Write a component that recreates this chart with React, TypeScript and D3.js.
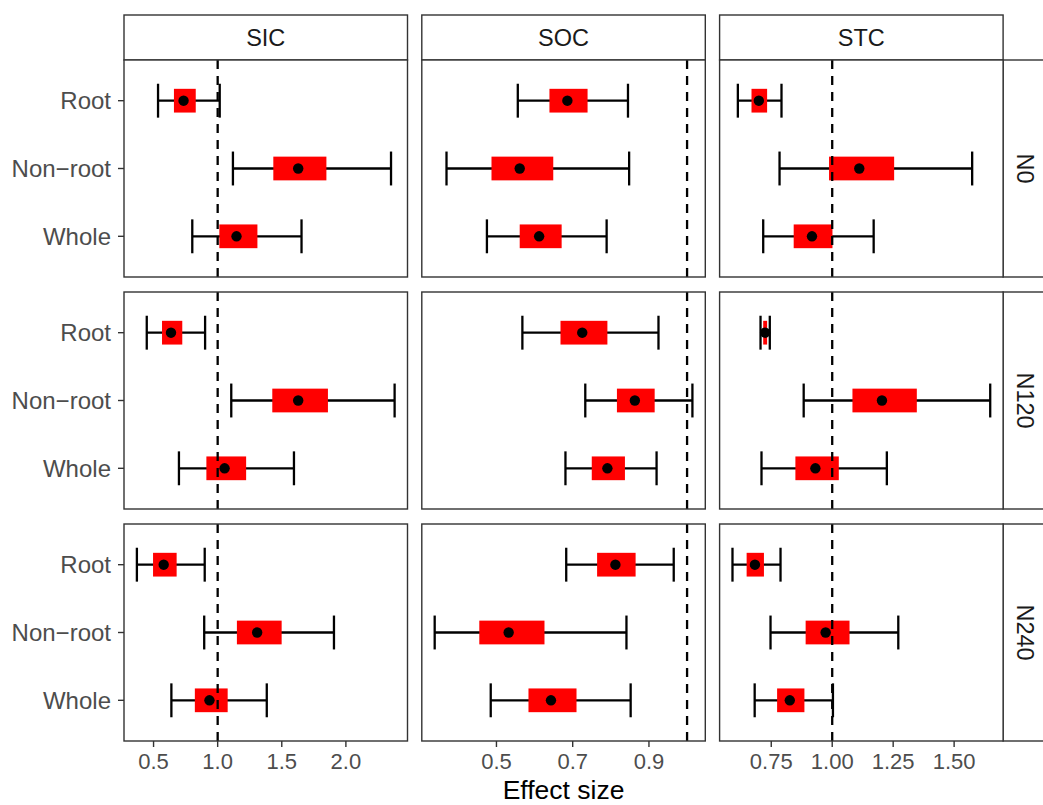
import React, { useEffect, useRef } from 'react';
import * as d3 from 'd3';

// facets
const pools = ['SIC', 'SOC', 'STC'];
const nLevels = ['N0', 'N120', 'N240'];
const parts = ['Root', 'Non\u2212root', 'Whole'];

// values: [nitrogen row][pool column][part]
const means = [
    [[0.734, 1.628, 1.147], [0.686, 0.561, 0.612], [0.699, 1.111, 0.917]],
    [[0.636, 1.628, 1.054], [0.725, 0.863, 0.791], [0.725, 1.204, 0.931]],
    [[0.579, 1.308, 0.936], [0.812, 0.532, 0.643], [0.683, 0.973, 0.826]]
];
const boxLow = [
    [[0.659, 1.434, 1.013], [0.639, 0.487, 0.561], [0.669, 0.987, 0.842]],
    [[0.566, 1.426, 0.912], [0.668, 0.816, 0.750], [0.717, 1.083, 0.849]],
    [[0.496, 1.150, 0.822], [0.764, 0.455, 0.584], [0.649, 0.891, 0.774]]
];
const boxHigh = [
    [[0.829, 1.848, 1.310], [0.739, 0.649, 0.671], [0.733, 1.254, 1.001]],
    [[0.724, 1.860, 1.222], [0.791, 0.915, 0.837], [0.733, 1.347, 1.027]],
    [[0.680, 1.499, 1.078], [0.865, 0.626, 0.710], [0.720, 1.071, 0.886]]
];
const ciLow = [
    [[0.535, 1.119, 0.802], [0.556, 0.369, 0.475], [0.613, 0.784, 0.717]],
    [[0.447, 1.106, 0.698], [0.568, 0.733, 0.681], [0.706, 0.883, 0.710]],
    [[0.370, 0.895, 0.639], [0.683, 0.338, 0.485], [0.591, 0.747, 0.682]]
];
const ciHigh = [
    [[1.016, 2.352, 1.654], [0.845, 0.848, 0.789], [0.792, 1.574, 1.170]],
    [[0.902, 2.380, 1.595], [0.925, 1.014, 0.920], [0.744, 1.648, 1.224]],
    [[0.899, 1.907, 1.383], [0.965, 0.841, 0.852], [0.788, 1.271, 1.003]]
];

// x ticks per pool
const ticksSIC = [0.5, 1.0, 1.5, 2.0];
const ticksSOC = [0.5, 0.7, 0.9];
const ticksSTC = [0.75, 1.0, 1.25, 1.5];
const tickSets = [ticksSIC, ticksSOC, ticksSTC];
const tickFormats = ['.1f', '.1f', '.2f'];

const refLine = 1;

const App = () => {
    const ref = useRef<SVGSVGElement | null>(null);

    useEffect(() => {
        const width = 1043;
        const height = 805;
        const left = 124, panelW = 283.5, gapX = 14.3;
        const top = 60, panelH = 217, gapY = 15;
        const stripH = 45;
        const border = '#333333';

        const svg = d3.select(ref.current);
        svg.selectAll('*').remove();
        svg.attr('width', width).attr('height', height)
            .style('font-family', 'Liberation Sans, Arial, sans-serif');

        const colX = (c: number) => left + c * (panelW + gapX);
        const rowY = (r: number) => top + r * (panelH + gapY);

        // free x scale per pool column
        const xScales = pools.map((_, c) => {
            const vals: number[] = [refLine];
            nLevels.forEach((_, r) => {
                vals.push(...ciLow[r][c], ...ciHigh[r][c]);
            });
            const [lo, hi] = d3.extent(vals) as [number, number];
            const pad = (hi - lo) * 0.05;
            return d3.scaleLinear().domain([lo - pad, hi + pad]).range([colX(c), colX(c) + panelW]);
        });

        // top strips
        pools.forEach((p, c) => {
            svg.append('rect')
                .attr('x', colX(c)).attr('y', top - stripH)
                .attr('width', panelW).attr('height', stripH)
                .attr('fill', 'white').attr('stroke', border).attr('stroke-width', 1.4);
            svg.append('text')
                .attr('x', colX(c) + panelW / 2).attr('y', top - stripH / 2)
                .attr('text-anchor', 'middle').attr('dominant-baseline', 'central')
                .attr('fill', '#1a1a1a').style('font-size', '23.5px')
                .text(p);
        });

        nLevels.forEach((lvl, r) => {
            const y0 = rowY(r);
            const y = d3.scalePoint<string>().domain(parts).range([y0, y0 + panelH]).padding(0.6);
            const step = y.step();

            // right strip
            const sx = colX(pools.length - 1) + panelW;
            svg.append('rect')
                .attr('x', sx).attr('y', y0)
                .attr('width', 44).attr('height', panelH)
                .attr('fill', 'white').attr('stroke', border).attr('stroke-width', 1.4);
            svg.append('text')
                .attr('transform', `translate(${sx + 22},${y0 + panelH / 2}) rotate(90)`)
                .attr('text-anchor', 'middle').attr('dominant-baseline', 'central')
                .attr('fill', '#1a1a1a').style('font-size', '23.5px')
                .text(lvl);

            pools.forEach((_, c) => {
                const x = xScales[c];
                const g = svg.append('g');

                g.append('rect')
                    .attr('x', colX(c)).attr('y', y0)
                    .attr('width', panelW).attr('height', panelH)
                    .attr('fill', 'white');

                const rows = parts.map((p, k) => ({
                    part: p,
                    mean: means[r][c][k],
                    bLo: boxLow[r][c][k], bHi: boxHigh[r][c][k],
                    lo: ciLow[r][c][k], hi: ciHigh[r][c][k]
                }));

                // error bars
                const eb = g.append('g').attr('stroke', 'black').attr('stroke-width', 2.3).attr('fill', 'none');
                rows.forEach(d => {
                    const cy = y(d.part)!;
                    eb.append('line').attr('x1', x(d.lo)).attr('x2', x(d.hi)).attr('y1', cy).attr('y2', cy);
                    eb.append('line').attr('x1', x(d.lo)).attr('x2', x(d.lo)).attr('y1', cy - step * 0.25).attr('y2', cy + step * 0.25);
                    eb.append('line').attr('x1', x(d.hi)).attr('x2', x(d.hi)).attr('y1', cy - step * 0.25).attr('y2', cy + step * 0.25);
                });

                // red boxes
                g.append('g').selectAll('rect')
                    .data(rows)
                    .join('rect')
                    .attr('x', d => x(d.bLo))
                    .attr('width', d => x(d.bHi) - x(d.bLo))
                    .attr('y', d => y(d.part)! - step * 0.175)
                    .attr('height', step * 0.35)
                    .attr('fill', '#ff0000');

                // reference line
                g.append('line')
                    .attr('x1', x(refLine)).attr('x2', x(refLine))
                    .attr('y1', y0).attr('y2', y0 + panelH)
                    .attr('stroke', 'black').attr('stroke-width', 2.3)
                    .attr('stroke-dasharray', '9,7');

                // means
                g.append('g').selectAll('circle')
                    .data(rows)
                    .join('circle')
                    .attr('cx', d => x(d.mean))
                    .attr('cy', d => y(d.part)!)
                    .attr('r', 5.2)
                    .attr('fill', 'black');

                g.append('rect')
                    .attr('x', colX(c)).attr('y', y0)
                    .attr('width', panelW).attr('height', panelH)
                    .attr('fill', 'none').attr('stroke', border).attr('stroke-width', 1.4);

                // y axis on the first column
                if (c === 0) {
                    parts.forEach(p => {
                        g.append('line')
                            .attr('x1', colX(0) - 6).attr('x2', colX(0))
                            .attr('y1', y(p)!).attr('y2', y(p)!)
                            .attr('stroke', border).attr('stroke-width', 1.4);
                        g.append('text')
                            .attr('x', colX(0) - 13).attr('y', y(p)!)
                            .attr('text-anchor', 'end').attr('dominant-baseline', 'central')
                            .attr('fill', '#4d4d4d').style('font-size', '24px')
                            .text(p);
                    });
                }

                // x axis on the last row
                if (r === nLevels.length - 1) {
                    const fmt = d3.format(tickFormats[c]);
                    tickSets[c].forEach(t => {
                        g.append('line')
                            .attr('x1', x(t)).attr('x2', x(t))
                            .attr('y1', y0 + panelH).attr('y2', y0 + panelH + 6)
                            .attr('stroke', border).attr('stroke-width', 1.4);
                        g.append('text')
                            .attr('x', x(t)).attr('y', y0 + panelH + 28)
                            .attr('text-anchor', 'middle')
                            .attr('fill', '#4d4d4d').style('font-size', '22px')
                            .text(fmt(t));
                    });
                }
            });
        });

        svg.append('text')
            .attr('x', (colX(0) + colX(pools.length - 1) + panelW) / 2)
            .attr('y', 799)
            .attr('text-anchor', 'middle')
            .attr('fill', 'black').style('font-size', '26.5px')
            .text('Effect size');
    }, []);

    return (
        <svg ref={ref} style={{ position: 'absolute', left: 0, top: 0, background: 'white' }} />
    );
};

export default App;
